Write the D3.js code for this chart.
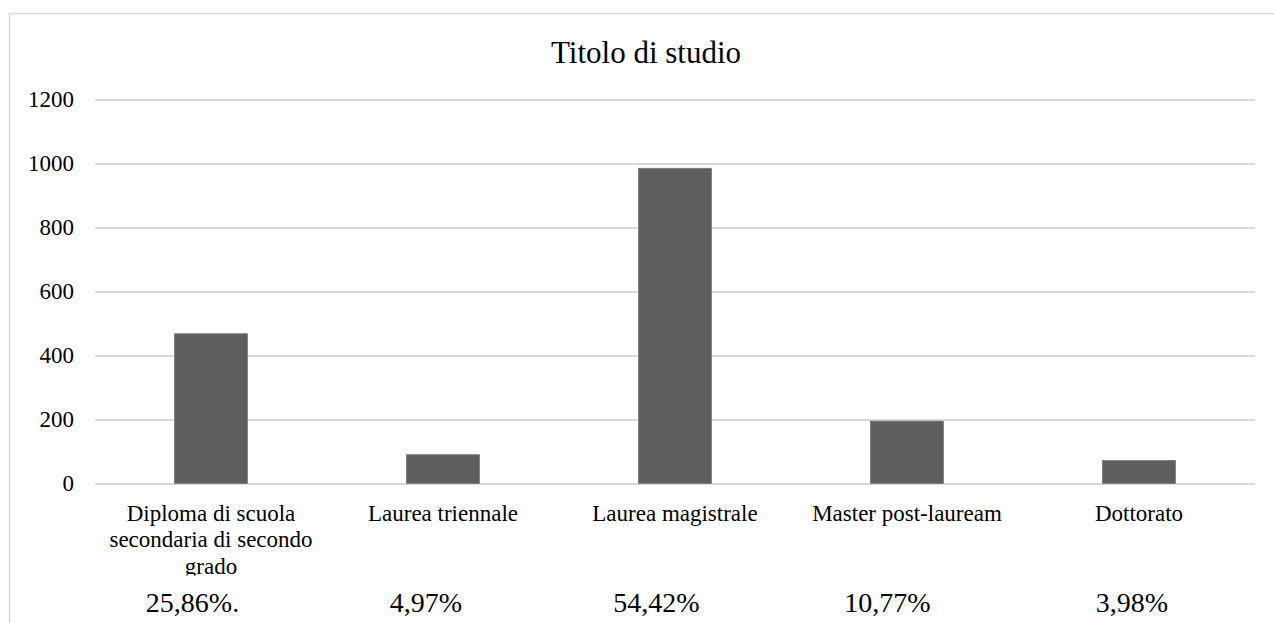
<!DOCTYPE html>
<html>
<head>
<meta charset="utf-8">
<script src="https://cdn.jsdelivr.net/npm/d3@7"></script>
<style>
  html, body { margin: 0; padding: 0; background: #fff; }
  svg { display: block; }
  text { font-family: "Liberation Serif", "Times New Roman", serif; fill: #000; }
</style>
</head>
<body>
<svg id="chart" width="1274" height="623"></svg>
<script>
// Titolo di studio: respondents per qualification
const categories = [
  "Diploma di scuola secondaria di secondo grado",
  "Laurea triennale",
  "Laurea magistrale",
  "Master post-lauream",
  "Dottorato"
];
const counts = [468, 90, 985, 195, 72];
const shares = ["25,86%.", "4,97%", "54,42%", "10,77%", "3,98%"];
const yTicks = [0, 200, 400, 600, 800, 1000, 1200];
const chartTitle = "Titolo di studio";

const W = 1274, H = 623;
const plot = { left: 95, right: 1255, top: 99.5, bottom: 483.5 };

const svg = d3.select("#chart");

// outer chart frame
svg.append("rect")
  .attr("x", 9.5).attr("y", 13.5)
  .attr("width", W + 20).attr("height", H + 20)
  .attr("fill", "none")
  .attr("stroke", "#d9d9d9")
  .attr("stroke-width", 1.5);

const x = d3.scaleBand()
  .domain(categories)
  .range([plot.left, plot.right])
  .paddingInner(0.685)
  .paddingOuter(0.3425);

const y = d3.scaleLinear()
  .domain([0, 1200])
  .range([plot.bottom, plot.top]);

// horizontal gridlines with value labels
const yAxis = d3.axisLeft(y)
  .tickValues(yTicks)
  .tickSize(-(plot.right - plot.left))
  .tickPadding(21)
  .tickFormat(d3.format("d"));

const gy = svg.append("g")
  .attr("transform", `translate(${plot.left},0)`)
  .call(yAxis);
gy.select(".domain").remove();
gy.selectAll(".tick line")
  .attr("stroke", "#d9d9d9")
  .attr("stroke-width", 1.8);
gy.selectAll(".tick text")
  .attr("font-size", 23)
  .attr("fill", "#000")
  .style("font-family", '"Liberation Serif", "Times New Roman", serif');

// bars
svg.append("g")
  .selectAll("rect")
  .data(categories)
  .join("rect")
  .attr("x", d => x(d))
  .attr("y", (d, i) => y(counts[i]))
  .attr("width", x.bandwidth())
  .attr("height", (d, i) => y(0) - y(counts[i]))
  .attr("fill", "#5f5f5f")
  .attr("stroke", "#7a7a7a")
  .attr("stroke-width", 0.8);

// title
svg.append("text")
  .attr("x", 646)
  .attr("y", 63)
  .attr("text-anchor", "middle")
  .attr("font-size", 31)
  .text(chartTitle);

// category labels, wrapped to the band width and clipped at the label area edge
svg.append("clipPath").attr("id", "catClip")
  .append("rect").attr("x", 0).attr("y", 0).attr("width", W).attr("height", 575.5);

const catFont = 23, catLine = 26.5, wrapWidth = 225;
const measure = svg.append("text").attr("font-size", catFont).attr("visibility", "hidden");
function wrap(label) {
  const words = label.split(" ");
  const lines = [];
  let cur = "";
  for (const w of words) {
    const trial = cur ? cur + " " + w : w;
    measure.text(trial);
    if (cur && measure.node().getComputedTextLength() > wrapWidth) {
      lines.push(cur);
      cur = w;
    } else {
      cur = trial;
    }
  }
  if (cur) lines.push(cur);
  return lines;
}

const cats = svg.append("g").attr("clip-path", "url(#catClip)");
categories.forEach(c => {
  const cx = x(c) + x.bandwidth() / 2;
  const t = cats.append("text")
    .attr("text-anchor", "middle")
    .attr("font-size", catFont);
  wrap(c).forEach((line, k) => {
    t.append("tspan")
      .attr("x", cx)
      .attr("y", 520.7 + k * catLine)
      .text(line);
  });
});
measure.remove();

// percentage share under each category
const shareNudge = [-18.5, -17, -18.5, -19.5, -7];
svg.append("g")
  .selectAll("text")
  .data(shares)
  .join("text")
  .attr("x", (d, i) => x(categories[i]) + x.bandwidth() / 2 + shareNudge[i])
  .attr("y", 611.5)
  .attr("text-anchor", "middle")
  .attr("font-size", 28)
  .text(d => d);
</script>
</body>
</html>
